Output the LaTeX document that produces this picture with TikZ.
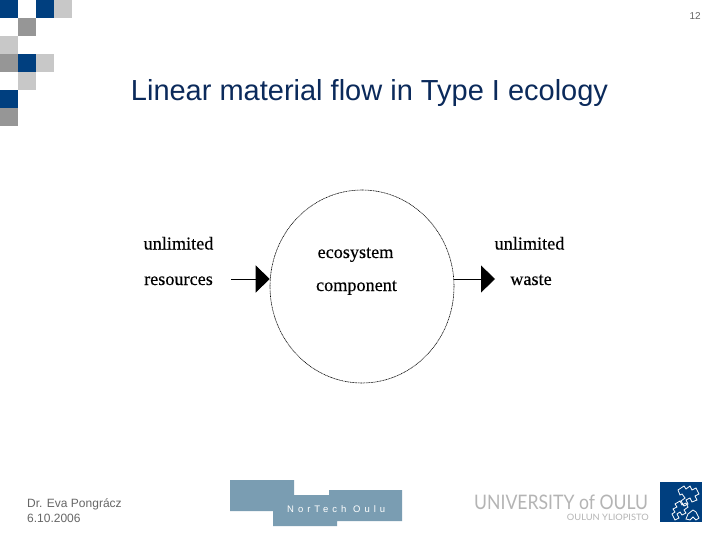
\documentclass[tikz,border=0pt]{standalone}
\usepackage{fontspec}
\setmainfont{Liberation Sans}
\newfontfamily\serifface[FakeBold=0.35]{Liberation Serif}
\newfontfamily\logoface{Lato}
\usetikzlibrary{arrows.meta,shapes.geometric}
\definecolor{oulublue}{HTML}{003F7F}
\definecolor{oulugray}{HTML}{969696}
\definecolor{oululight}{HTML}{C8C8C8}
\definecolor{norteal}{HTML}{7A9DB2}
\definecolor{titleblue}{HTML}{0B2A5B}
\definecolor{footgray}{HTML}{666666}
\definecolor{unigray}{HTML}{B4B4B4}
\definecolor{ylitext}{HTML}{B4B4B4}
\tikzset{
  x=1pt,y=-1pt,
  tile/.style={draw=none,minimum size=18pt,inner sep=0pt,outer sep=0pt,anchor=north west},
  flowlabel/.style={font=\serifface\fontsize{18.2}{20}\selectfont,inner sep=0pt,text=black},
  flow/.style={line width=0.8pt,-{Triangle[length=14pt,width=27pt]}},
  footer/.style={font=\fontsize{12}{14}\selectfont,text=footgray,inner sep=0pt,anchor=base west},
  puzzle/.style={draw=white,line width=0.8pt,line join=miter}
}
\begin{document}
\begin{tikzpicture}
\useasboundingbox (0,0) rectangle (720,540);
\fill[white] (0,0) rectangle (720,540);
% decorative tiles
\node[tile,fill=oulublue] (t1) at (0,0) {};
\node[tile,fill=oulublue] (t2) at (36,0) {};
\node[tile,fill=oululight] (t3) at (54,0) {};
\node[tile,fill=oulugray] (t4) at (18,18) {};
\node[tile,fill=oululight] (t5) at (0,36) {};
\node[tile,fill=oulugray] (t6) at (0,54) {};
\node[tile,fill=oulublue] (t7) at (18,54) {};
\node[tile,fill=oululight] (t8) at (36,54) {};
\node[tile,fill=oululight] (t9) at (18,72) {};
\node[tile,fill=oulublue] (t10) at (0,90) {};
\node[tile,fill=oulugray] (t11) at (0,108) {};
% page number and title
\node[font=\fontsize{10}{12}\selectfont,text=footgray,inner sep=0pt,anchor=base east] (page) at (701,20) {12};
\node[font=\fontsize{29}{32}\selectfont,text=titleblue,inner sep=0pt,anchor=base] (title) at (369.5,101) {Linear material flow in Type I ecology};
% diagram
\node[draw,ellipse,minimum width=184pt,minimum height=193pt,inner sep=0pt,line width=0.6pt,dash pattern=on 1pt off 0.6pt] (eco) at (362,286.5) {};
\node[flowlabel,anchor=base] (l1) at (178.5,249.5) {unlimited};
\node[flowlabel,anchor=base] (l2) at (178.5,285) {resources};
\node[flowlabel,anchor=base] (l3) at (355.5,258) {ecosystem};
\node[flowlabel,anchor=base] (l4) at (356.5,291) {component};
\node[flowlabel,anchor=base] (l5) at (529.5,249.5) {unlimited};
\node[flowlabel,anchor=base] (l6) at (531,285) {waste};
\coordinate (in) at (231,279);
\coordinate (out) at (495,279);
\draw[flow] (in) -- (eco.west |- in);
\draw[flow] (eco.east |- out) -- (out);
% footer
\node[footer] (f1) at (27,507) {Dr. Eva Pongrácz};
\node[footer] (f2) at (27,522) {6.10.2006};
% NorTech logo
\fill[norteal] (230,480) -- (294,480) -- (294,495) -- (329,495) -- (329,490) -- (402,490) -- (402,521) -- (337,521) -- (337,526) -- (273,526) -- (273,511) -- (230,511) -- cycle;
\node[font=\fontsize{9.5}{10}\selectfont,text=white,inner sep=0pt,anchor=base west] (nt) at (287,512) {\addfontfeatures{LetterSpace=42}NorTech Oulu};
% university logo
\node[font=\logoface\fontsize{20}{20}\selectfont,text=unigray,inner sep=0pt,anchor=base west] (uo) at (474,509) {\scalebox{0.88}[1]{UNIVERSITY of OULU}};
\node[font=\logoface\fontsize{8.8}{9}\selectfont,text=ylitext,inner sep=0pt,anchor=base east] (oy) at (649,520) {\scalebox{1.06}[1]{OULUN YLIOPISTO}};
\fill[oulublue] (660,482) rectangle (702,522);
\draw[puzzle] (678,490) -- (684,486) -- (686,489) -- (690,486) -- (692,490) -- (696,488) -- (699,494) -- (695,496) -- (697,500) -- (692,502) -- (690,498) -- (686,500) -- (688,504) -- (684,506) -- (681,501) -- (685,498) -- (682,494) -- (680,495) -- cycle;
\draw[puzzle] (675,504) -- (680,501) -- (682,505) -- (686,503) -- (688,507) -- (684,510) -- (686,513) -- (682,515) -- (680,512) -- (677,514) -- (679,518) -- (675,520) -- (672,514) -- (675,512) -- (673,509) -- (677,507) -- cycle;
\draw[puzzle] (688,514) -- (693,510) -- (696,512) -- (699,518) -- (696,520) -- (693,517) -- (690,520) -- (686,519) -- cycle;
\end{tikzpicture}
\end{document}
